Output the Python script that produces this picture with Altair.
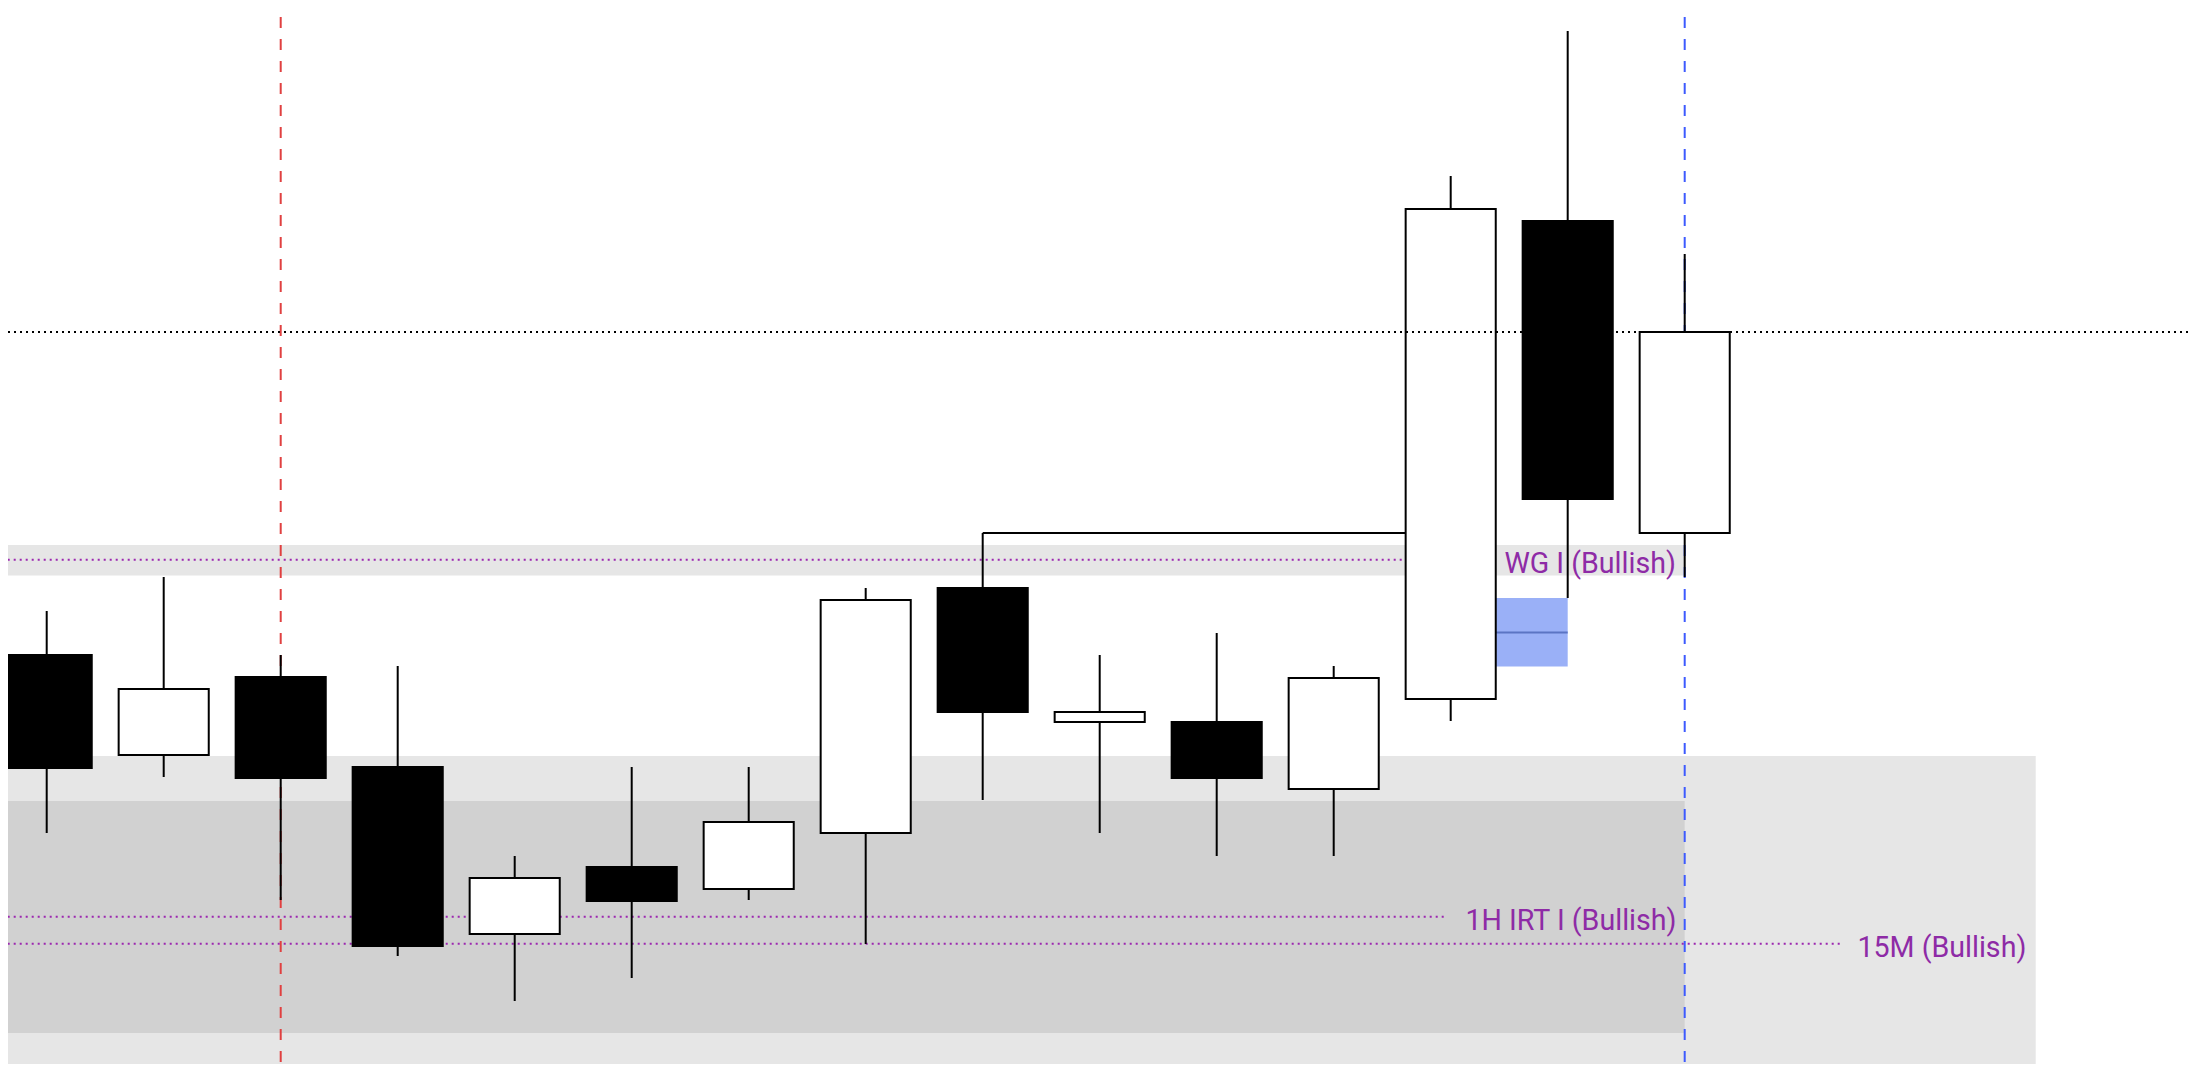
import altair as alt
import pandas as pd

# ---------------- data ----------------
candle_idx = list(range(15))
opens  = [41.7, 31.7, 39.5, 30.5, 13.8, 20.5, 18.3, 23.9, 48.4, 35.0, 35.0, 28.3, 37.3, 85.1, 53.9]
highs  = [46.1, 49.5, 41.7, 40.6, 21.6, 30.5, 30.5, 48.4, 53.9, 41.7, 43.9, 40.6, 89.6, 104.1, 81.8]
lows   = [23.9, 29.5, 17.2, 11.6, 7.1, 9.4, 17.2, 12.8, 27.2, 23.9, 21.6, 21.6, 35.1, 47.4, 49.5]
closes = [30.4, 38.3, 29.4, 12.6, 19.4, 17.1, 25.0, 47.2, 36.0, 36.0, 29.4, 39.4, 86.3, 57.3, 74.0]

# shaded zones (x from, x to, price low, price high, colour)
zone_x0 = [-1.0, -1.0, -1.0]
zone_x1 = [17.0, 14.0, 14.0]
zone_lo = [-1.0, 3.9, 49.64]
zone_hi = [31.6, 27.1, 52.7]
zone_col = ["#E6E6E6", "#D1D1D1", "#E6E6E6"]

# level lines with labels
level_names = ["WG I (Bullish)", "1H IRT I (Bullish)", "15M (Bullish)"]
level_price = [51.23, 15.53, 12.82]
level_line_end = [12.29, 11.96, 15.325]
level_label_right = [13.925, 13.93, 16.92]

# vertical session markers
vline_x = [2, 14]
vline_col = ["#E04040", "#3D5AFE"]

# current price
current_price = 74.0

# imbalance box
box_x0, box_x1 = [12.385], [13.0]
box_lo, box_hi, box_mid = [40.56], [47.4], [43.96]

# connector from candle 9 high to candle 13
conn_x0, conn_x1, conn_y = [8], [11.615], [53.9]

# ---------------- chart ----------------
W, H = 2180, 1056
X_DOMAIN = [-0.3308, 18.3017]
Y_DOMAIN = [0.8, 106.4]
BODY_HALF = 0.385

xs = alt.Scale(domain=X_DOMAIN, nice=False, zero=False)
ys = alt.Scale(domain=Y_DOMAIN, nice=False, zero=False)

def X(f):
    return alt.X(f, scale=xs, axis=None)

def Y(f):
    return alt.Y(f, scale=ys, axis=None)

candles = pd.DataFrame({"i": candle_idx, "open": opens, "high": highs, "low": lows, "close": closes})
candles["x0"] = candles["i"] - BODY_HALF
candles["x1"] = candles["i"] + BODY_HALF
candles["fill"] = ["#000000" if c < o else "#FFFFFF" for o, c in zip(opens, closes)]

zones = pd.DataFrame({"x0": zone_x0, "x1": zone_x1, "lo": zone_lo, "hi": zone_hi, "col": zone_col})
levels = pd.DataFrame({"name": level_names, "price": level_price,
                       "xe": level_line_end, "lx": level_label_right,
                       "xs": [-1.0] * 3})
vlines = pd.DataFrame({"x": vline_x, "col": vline_col})
box = pd.DataFrame({"x0": box_x0, "x1": box_x1, "lo": box_lo, "hi": box_hi, "mid": box_mid})
conn = pd.DataFrame({"x0": conn_x0, "x1": conn_x1, "y": conn_y})
cur = pd.DataFrame({"p": [current_price]})

zone_layer = alt.Chart(zones).mark_rect(clip=True).encode(
    x=X("x0:Q"), x2="x1:Q", y=Y("lo:Q"), y2="hi:Q",
    fill=alt.Color("col:N", scale=None))

vline_layer = alt.Chart(vlines).mark_rule(strokeWidth=2, strokeDash=[11, 11], strokeDashOffset=13).encode(
    x=X("x:Q"), y=alt.value(0), y2=alt.value(H),
    color=alt.Color("col:N", scale=None))

level_layer = alt.Chart(levels).mark_rule(strokeWidth=2, strokeDash=[2, 4], color="#9C27B0", clip=True).encode(
    x=X("xs:Q"), x2="xe:Q", y=Y("price:Q"))

label_layer = alt.Chart(levels).mark_text(
    align="right", baseline="alphabetic", dy=13, font="Roboto", fontSize=28.6, color="#8E2BA6").encode(
    x=X("lx:Q"), y=Y("price:Q"), text="name:N")

box_layer = alt.Chart(box).mark_rect(color="#9AB0F7").encode(
    x=X("x0:Q"), x2="x1:Q", y=Y("lo:Q"), y2="hi:Q")
box_mid_layer = alt.Chart(box).mark_rule(strokeWidth=2, color="#5B74C4").encode(
    x=X("x0:Q"), x2="x1:Q", y=Y("mid:Q"))

conn_layer = alt.Chart(conn).mark_rule(strokeWidth=2, color="#000000").encode(
    x=X("x0:Q"), x2="x1:Q", y=Y("y:Q"))

wick_layer = alt.Chart(candles).mark_rule(strokeWidth=2, color="#000000").encode(
    x=X("i:Q"), y=Y("low:Q"), y2="high:Q")

body_layer = alt.Chart(candles).mark_rect(stroke="#000000", strokeWidth=2).encode(
    x=X("x0:Q"), x2="x1:Q", y=Y("open:Q"), y2="close:Q",
    fill=alt.Color("fill:N", scale=None))

cur_layer = alt.Chart(cur).mark_rule(strokeWidth=2, strokeDash=[2, 4], color="#000000").encode(
    y=Y("p:Q"), x=alt.value(0), x2=alt.value(W))

chart = alt.layer(
    zone_layer, vline_layer, level_layer, label_layer, box_layer, box_mid_layer,
    conn_layer, wick_layer, body_layer, cur_layer
).properties(
    width=W, height=H, autosize=alt.AutoSizeParams(type="none"), padding=0, background="#FFFFFF"
).configure_view(strokeWidth=0)

chart.save("out.html", embed_options={"renderer": "svg", "actions": False})
